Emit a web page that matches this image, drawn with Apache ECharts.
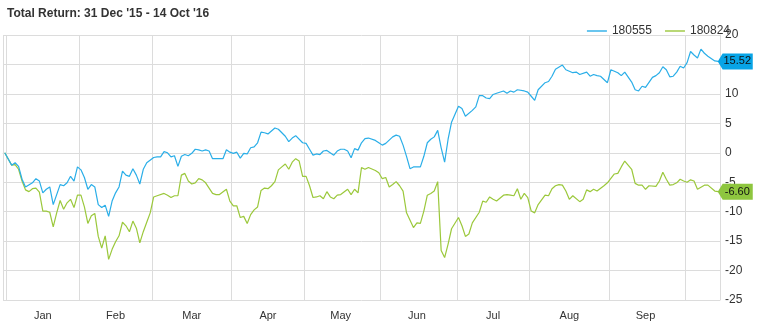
<!DOCTYPE html>
<html>
<head>
<meta charset="utf-8">
<script src="https://cdn.jsdelivr.net/npm/echarts@6/dist/echarts.min.js"></script>
<style>
html,body{margin:0;padding:0;background:#fff;}
#chart{width:760px;height:332px;}
</style>
</head>
<body>
<div id="chart"></div>
<script>
// ---- Data ----
const titleText = "Total Return: 31 Dec '15 - 14 Oct '16";
const seriesNames = ['180555', '180824'];
const monthLabels = ['Jan', 'Feb', 'Mar', 'Apr', 'May', 'Jun', 'Jul', 'Aug', 'Sep'];
const startDate = '2015-12-31';
const endDate = '2016-10-14';
const yTicks = [-25, -20, -15, -10, -5, 0, 5, 10, 15, 20];

// weekday index (0 = 31 Dec 2015) and value
const blueIdx = [0,2,3,4,5,6,8,9,10,11,12,13,14,16,17,18,19,20,21,22,23,24,25,26,27,28,29,30,31,32,33,34,35,36,37,38,39,40,41,43,44,45,46,47,48,49,50,51,52,53,54,55,56,57,58,59,60,61,63,64,65,66,67,68,69,70,71,72,73,74,75,76,77,78,79,81,82,83,84,86,87,88,89,90,91,92,93,95,96,97,98,99,100,101,102,103,104,105,107,108,109,110,112,113,114,115,116,117,118,120,121,122,123,124,125,126,127,128,129,131,132,133,135,136,137,138,139,140,141,142,144,145,146,147,148,150,151,152,153,154,156,157,158,159,161,162,164,165,166,168,169,170,171,172,174,175,177,178,179,181,182,183,184,185,187,188,189,190,191,192,193,194,195,196,197,198,199,200,201,202,203,205,206];
const blueVal = [0,-2.1,-1.7,-2.3,-4.5,-5.8,-5.1,-4.4,-4.8,-6.8,-6.2,-5.8,-8.8,-5.4,-5.6,-5.1,-4.0,-4.8,-2.4,-2.9,-4.2,-6.2,-5.4,-5.8,-8.8,-9.3,-8.9,-10.8,-8.2,-6.8,-5.8,-3.1,-3.8,-4.0,-2.7,-3.8,-5.3,-2.8,-1.7,-0.8,-0.7,-0.7,0.2,0,-0.7,-0.5,-2.3,-0.6,-0.3,-0.5,-0.1,0.6,0.5,0.3,0.5,0.3,-1.0,-1.0,-1.0,0.5,0.1,-0.1,0.1,-0.9,-0.1,-0.2,0.85,1.0,1.7,3.5,3.4,3.2,3.7,4.2,4.0,2.8,1.9,2.5,2.9,1.7,1.6,0.6,-0.4,-0.2,-0.3,0.3,0.4,-0.4,0.3,0.6,0.6,0.3,-0.85,0.7,0.45,1.7,2.4,2.5,2.1,1.7,1.3,1.6,2.7,3.0,2.8,1.3,-0.6,-2.7,-2.4,-2.4,-0.6,1.7,2.3,2.7,3.8,0.85,-1.6,2.3,5.2,7.9,7.5,6.2,7.2,7.8,9.7,9.7,9.3,9.2,9.9,10.1,10.5,10.1,10.5,10.3,10.7,10.5,10.3,9.6,8.9,10.7,11.9,12.1,13.0,14.2,14.9,14.1,13.6,13.7,13.3,13.7,13.0,13.3,13.1,13.0,11.9,14.1,13.6,13.1,13.7,12.0,10.7,10.5,11.3,11.1,12.8,13.1,13.6,14.6,14.1,12.9,13.0,13.7,14.7,14.4,15.3,17.2,16.6,16.1,17.6,16.9,16.4,15.6,15.52];

const greenIdx = [0,2,3,4,5,6,7,8,9,10,11,12,13,14,15,16,17,18,19,20,21,22,23,24,25,26,27,28,29,30,31,32,33,34,35,36,37,38,39,40,41,42,43,44,46,47,48,49,50,51,52,53,54,55,56,57,58,60,61,62,64,65,66,67,68,69,70,71,72,73,74,75,76,77,78,79,80,81,82,83,84,85,86,87,88,89,90,91,92,93,94,95,96,97,99,100,101,102,103,104,105,107,108,109,110,111,112,113,114,115,116,118,119,120,121,122,123,124,125,126,127,128,129,131,132,133,134,135,137,138,139,140,141,142,144,145,146,147,148,149,150,151,152,153,154,156,157,158,159,160,161,162,163,164,166,167,168,169,170,171,173,174,176,177,178,179,181,182,183,184,185,186,188,189,190,191,192,193,194,195,196,197,198,199,200,202,203,205,206];
const greenVal = [0,-2.1,-2.0,-2.8,-4.8,-6.3,-6.6,-6.1,-6.0,-6.7,-9.9,-9.9,-10.1,-12.6,-10.2,-8.1,-9.6,-8.5,-7.9,-9.3,-7.2,-7.2,-9.2,-12.0,-10.7,-10.3,-14.2,-16.2,-14.1,-18.1,-16.4,-15.1,-14.1,-11.8,-12.4,-13.4,-11.6,-12.8,-15.3,-13.4,-11.8,-10.2,-7.5,-7.3,-6.9,-7.2,-7.6,-7.3,-7.3,-3.8,-3.5,-4.8,-5.3,-5.1,-4.4,-4.6,-5.1,-6.9,-7.1,-7.1,-6.2,-8.2,-9.0,-9.0,-11.0,-10.8,-12.0,-10.5,-9.7,-9.2,-6.4,-6.0,-6.1,-5.6,-4.9,-2.9,-2.4,-1.9,-2.8,-1.6,-1.0,-1.4,-4.0,-4.0,-5.6,-7.6,-7.5,-7.3,-7.8,-6.6,-7.5,-7.8,-7.2,-7.1,-6.2,-7.1,-6.2,-6.8,-2.5,-2.8,-2.5,-3.0,-3.4,-4.4,-4.2,-5.8,-5.4,-4.9,-5.6,-6.5,-10.2,-12.7,-11.9,-12.0,-9.9,-7.2,-6.9,-6.5,-4.9,-16.6,-17.8,-15.5,-12.9,-11.0,-12.4,-14.2,-13.8,-11.9,-10.1,-8.2,-8.4,-7.5,-7.9,-8.2,-7.2,-7.1,-7.2,-7.3,-6.1,-7.9,-6.9,-7.6,-9.9,-10.2,-8.8,-7.2,-7.3,-6.1,-5.6,-5.4,-5.5,-6.5,-7.9,-7.3,-8.3,-7.9,-6.3,-6.6,-6.2,-6.5,-5.6,-5.1,-3.6,-3.5,-2.4,-1.4,-2.8,-5.2,-5.5,-5.5,-6.2,-5.6,-5.7,-4.8,-3.3,-4.5,-5.5,-5.4,-5.1,-4.5,-4.8,-5.0,-4.6,-4.8,-6.2,-5.5,-5.5,-6.5,-6.60];

const blueLast = 15.52;
const greenLast = -6.60;

// ---- Build weekday categories ----
function buildWeekdays(a, b) {
  const out = [];
  const d = new Date(a + 'T00:00:00Z');
  const e = new Date(b + 'T00:00:00Z');
  while (d <= e) {
    const wd = d.getUTCDay();
    if (wd !== 0 && wd !== 6) out.push(d.toISOString().slice(0, 10));
    d.setUTCDate(d.getUTCDate() + 1);
  }
  return out;
}
const dates = buildWeekdays(startDate, endDate);
const monthOf = s => parseInt(s.slice(5, 7), 10);
const firstOfMonth = new Set();
const labelIdx = new Set();
(function () {
  let groups = {};
  dates.forEach((s, i) => {
    const key = s.slice(0, 7);
    (groups[key] = groups[key] || []).push(i);
    if (i === 0 || monthOf(dates[i - 1]) !== monthOf(s)) firstOfMonth.add(i);
  });
  Object.keys(groups).forEach(k => {
    const m = parseInt(k.slice(5, 7), 10);
    if (k.startsWith('2016') && m <= monthLabels.length) {
      const g = groups[k];
      labelIdx.add(g[Math.floor((g.length - 1) / 2)]);
    }
  });
})();

const pairs = (idx, val) => idx.map((x, k) => [x, val[k]]);

const blueColor = '#2aaee8';
const greenColor = '#9bc83b';
const tagPath = 'path://M0,8 L5,0 L36,0 L36,16 L5,16 Z';
const legendIcon = 'path://M0,0 L20,0 L20,1.4 L0,1.4 Z';

function tag(color, value, lastIdx) {
  return {
    symbol: tagPath,
    symbolSize: [35, 16],
    symbolKeepAspect: false,
    symbolOffset: [17, 0],
    silent: true,
    data: [{ coord: [lastIdx, value], value: value.toFixed(2) }],
    itemStyle: { color: color },
    label: {
      show: true, position: 'inside', offset: [2, 0],
      formatter: '{c}', color: '#111', fontSize: 11,
      fontFamily: 'Liberation Sans, Arial, sans-serif'
    }
  };
}

const chart = echarts.init(document.getElementById('chart'), null, { renderer: 'canvas' });
chart.setOption({
  animation: false,
  backgroundColor: '#fff',
  textStyle: { fontFamily: 'Liberation Sans, Arial, sans-serif' },
  title: {
    text: titleText, left: 2, top: 3,
    textStyle: { fontSize: 12, fontWeight: 'bold', color: '#333', fontFamily: 'Liberation Sans, Arial, sans-serif' }
  },
  legend: {
    right: 25, top: 20, itemWidth: 20, itemHeight: 1.4, itemGap: 13,
    textStyle: { fontSize: 12, color: '#333' },
    data: [
      { name: seriesNames[0], icon: legendIcon },
      { name: seriesNames[1], icon: legendIcon }
    ]
  },
  grid: { left: 3, right: 40, top: 35, bottom: 32, containLabel: false },
  xAxis: {
    type: 'category', data: dates, boundaryGap: true,
    axisLine: { show: true, lineStyle: { color: '#dcdcdc' } },
    axisTick: { show: true, length: 3, interval: i => firstOfMonth.has(i), lineStyle: { color: '#dcdcdc' } },
    splitLine: { show: true, interval: i => firstOfMonth.has(i), lineStyle: { color: '#dcdcdc', width: 1 } },
    axisLabel: {
      interval: i => labelIdx.has(i), margin: 10, color: '#333', fontSize: 11,
      formatter: v => monthLabels[monthOf(v) - 1]
    }
  },
  yAxis: {
    type: 'value', position: 'right', min: -25, max: 20, interval: 5,
    axisLine: { show: true, lineStyle: { color: '#dcdcdc' } },
    axisTick: { show: false },
    splitLine: { show: true, lineStyle: { color: '#dcdcdc' } },
    axisLabel: { margin: 5, color: '#333', fontSize: 12 }
  },
  series: [
    {
      name: seriesNames[0], type: 'line', data: pairs(blueIdx, blueVal),
      symbol: 'none', showSymbol: false, smooth: false, clip: false,
      lineStyle: { color: blueColor, width: 1.2 }, itemStyle: { color: blueColor },
      markPoint: tag('#08a4e6', blueLast, 206), z: 3
    },
    {
      name: seriesNames[1], type: 'line', data: pairs(greenIdx, greenVal),
      symbol: 'none', showSymbol: false, smooth: false, clip: false,
      lineStyle: { color: greenColor, width: 1.2 }, itemStyle: { color: greenColor },
      markPoint: tag('#8ec63f', greenLast, 206), z: 2
    }
  ]
});
</script>
</body>
</html>
